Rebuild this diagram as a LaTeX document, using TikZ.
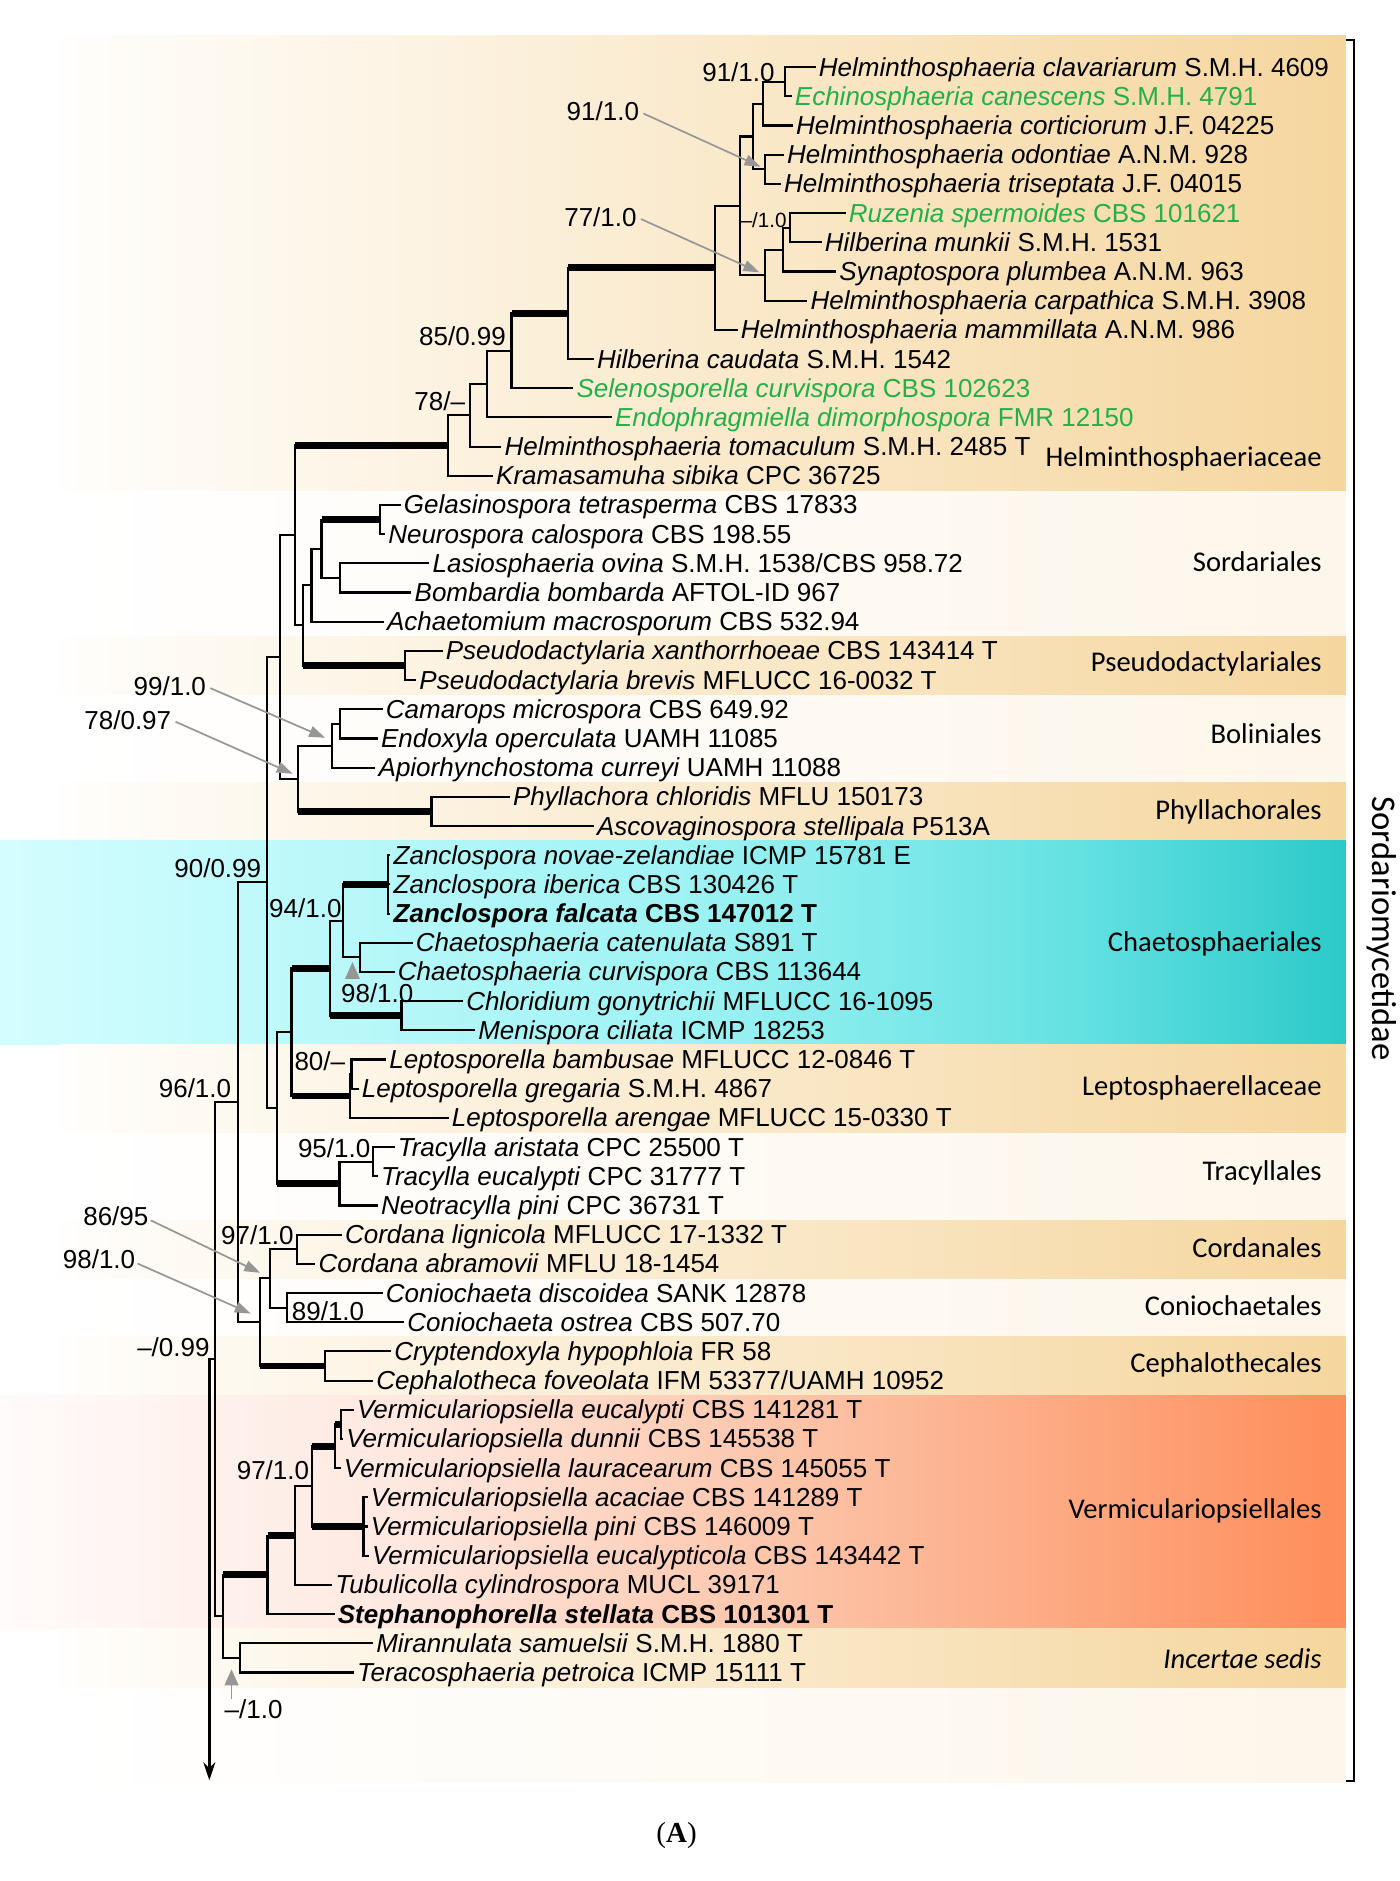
\documentclass[tikz,border=0pt]{standalone}
\usepackage{fontspec}
\setmainfont{Liberation Sans}
\newfontfamily\grpfont{Carlito}
\newfontfamily\capfont{Liberation Serif}
\usetikzlibrary{arrows.meta}
\definecolor{grn}{RGB}{36,176,72}
\definecolor{agray}{RGB}{150,150,150}
\definecolor{tanL}{RGB}{255,254,252}
\definecolor{tanR}{RGB}{245,214,158}
\definecolor{crR}{RGB}{253,246,234}
\definecolor{cy0}{RGB}{212,253,255}
\definecolor{cy1}{RGB}{160,243,244}
\definecolor{cy2}{RGB}{100,225,226}
\definecolor{cy3}{RGB}{44,201,201}
\definecolor{vm0}{RGB}{255,251,250}
\definecolor{vm1}{RGB}{254,232,224}
\definecolor{vm2}{RGB}{252,194,166}
\definecolor{vm3}{RGB}{254,141,90}
\pgfdeclarehorizontalshading{tansh}{100bp}{color(0bp)=(tanL); color(25bp)=(tanL); color(75bp)=(tanR); color(100bp)=(tanR)}
\pgfdeclarehorizontalshading{panelsh}{100bp}{color(0bp)=(white); color(25bp)=(white); color(75bp)=(crR); color(100bp)=(crR)}
\pgfdeclarehorizontalshading{cysh}{100bp}{color(0bp)=(cy0); color(25bp)=(cy0); color(50bp)=(cy1); color(65bp)=(cy2); color(75bp)=(cy3); color(100bp)=(cy3)}
\pgfdeclarehorizontalshading{vmsh}{100bp}{color(0bp)=(vm0); color(25bp)=(vm0); color(40bp)=(vm1); color(55bp)=(vm2); color(75bp)=(vm3); color(100bp)=(vm3)}
\tikzset{
  br/.style={line width=1.05pt, line cap=rect},
  thk/.style={line width=3.4pt},
  leaf/.style={anchor=base west, inner sep=0pt, xshift=2pt, yshift=-4.5pt, font=\fontsize{13pt}{15pt}\selectfont},
  slab/.style={anchor=base east, inner sep=0pt, font=\fontsize{13pt}{15pt}\selectfont},
  grp/.style={anchor=base east, inner sep=0pt, font=\grpfont\fontsize{14.3pt}{16pt}\selectfont},
  garrow/.style={color=agray, line width=0.85pt, -{Triangle[length=8pt,width=5.5pt]}},
}
\newcommand{\mklf}[4]{\coordinate (#1) at (#2,{56+(#3-1)*24.33}); \node[leaf] (#1t) at (#1) {#4};}
\newcommand{\mkn}[3]{\draw[br] (#1 |- #2) -- (#1 |- #3); \draw[br] (#1 |- #2) -- (#2); \draw[br] (#1 |- #3) -- (#3);}
\newcommand{\mkt}[2]{\draw[thk] (#1 |- #2) -- (#2);}
\newcommand{\mkh}[2]{\draw[br] (#1 |- #2) -- (#2);}
\begin{document}
\begin{tikzpicture}[x=0.6pt, y=-0.6pt]
\useasboundingbox (0,0) rectangle (1167,1568);
\fill[white] (0,0) rectangle (1167,1568);
% backgrounds
\shade[shading=panelsh] (50,30) rectangle (1122,1486);
\shade[shading=tansh] (50,30) rectangle (1122,408.8);
\shade[shading=tansh] (50,530.4) rectangle (1122,579.1);
\shade[shading=tansh] (50,652.1) rectangle (1122,700.8);
\shade[shading=cysh] (0,700.8) rectangle (1122,871.1);
\shade[shading=tansh] (50,871.1) rectangle (1122,944.1);
\shade[shading=tansh] (50,1017.1) rectangle (1122,1065.7);
\shade[shading=tansh] (50,1114.4) rectangle (1122,1163.0);
\shade[shading=vmsh] (0,1163.0) rectangle (1122,1357.7);
\shade[shading=tansh] (50,1357.7) rectangle (1122,1406.3);
% bracket
\coordinate (brT) at (1122,33); \coordinate (brB) at (1122,1485);
\draw[line width=1pt] (brT) -- ++(7,0) |- (brB);
\node[rotate=-90, font=\grpfont\fontsize{17.3pt}{20pt}\selectfont] (subcl) at (1152,774) {Sordariomycetidae};
% leaves
\mklf{L1}{679}{1}{\textit{Helminthosphaeria clavariarum} S.M.H. 4609}
\mklf{L2}{659}{2}{\color{grn}\textit{Echinosphaeria canescens} S.M.H. 4791}
\mklf{L3}{660}{3}{\textit{Helminthosphaeria corticiorum} J.F. 04225}
\mklf{L4}{652.5}{4}{\textit{Helminthosphaeria odontiae} A.N.M. 928}
\mklf{L5}{650}{5}{\textit{Helminthosphaeria triseptata} J.F. 04015}
\mklf{L6}{704}{6}{\color{grn}\textit{Ruzenia spermoides} CBS 101621}
\mklf{L7}{684}{7}{\textit{Hilberina munkii} S.M.H. 1531}
\mklf{L8}{696}{8}{\textit{Synaptospora plumbea} A.N.M. 963}
\mklf{L9}{672}{9}{\textit{Helminthosphaeria carpathica} S.M.H. 3908}
\mklf{L10}{614}{10}{\textit{Helminthosphaeria mammillata} A.N.M. 986}
\mklf{L11}{494}{11}{\textit{Hilberina caudata} S.M.H. 1542}
\mklf{L12}{477}{12}{\color{grn}\textit{Selenosporella curvispora} CBS 102623}
\mklf{L13}{509}{13}{\color{grn}\textit{Endophragmiella dimorphospora} FMR 12150}
\mklf{L14}{417}{14}{\textit{Helminthosphaeria tomaculum} S.M.H. 2485 T}
\mklf{L15}{410}{15}{\textit{Kramasamuha sibika} CPC 36725}
\mklf{L16}{333}{16}{\textit{Gelasinospora tetrasperma} CBS 17833}
\mklf{L17}{320}{17}{\textit{Neurospora calospora} CBS 198.55}
\mklf{L18}{357}{18}{\textit{Lasiosphaeria ovina} S.M.H. 1538/CBS 958.72}
\mklf{L19}{342}{19}{\textit{Bombardia bombarda} AFTOL-ID 967}
\mklf{L20}{319}{20}{\textit{Achaetomium macrosporum} CBS 532.94}
\mklf{L21}{368}{21}{\textit{Pseudodactylaria xanthorrhoeae} CBS 143414 T}
\mklf{L22}{346}{22}{\textit{Pseudodactylaria brevis} MFLUCC 16-0032 T}
\mklf{L23}{318}{23}{\textit{Camarops microspora} CBS 649.92}
\mklf{L24}{314}{24}{\textit{Endoxyla operculata} UAMH 11085}
\mklf{L25}{312}{25}{\textit{Apiorhynchostoma curreyi} UAMH 11088}
\mklf{L26}{424}{26}{\textit{Phyllachora chloridis} MFLU 150173}
\mklf{L27}{494}{27}{\textit{Ascovaginospora stellipala} P513A}
\mklf{L28}{324.5}{28}{\textit{Zanclospora novae-zelandiae} ICMP 15781 E}
\mklf{L29}{324.5}{29}{\textit{Zanclospora iberica} CBS 130426 T}
\mklf{L30}{324.5}{30}{\textbf{\textit{Zanclospora falcata} CBS 147012 T}}
\mklf{L31}{343}{31}{\textit{Chaetosphaeria catenulata} S891 T}
\mklf{L32}{328}{32}{\textit{Chaetosphaeria curvispora} CBS 113644}
\mklf{L33}{385}{33}{\textit{Chloridium gonytrichii} MFLUCC 16-1095}
\mklf{L34}{395}{34}{\textit{Menispora ciliata} ICMP 18253}
\mklf{L35}{321}{35}{\textit{Leptosporella bambusae} MFLUCC 12-0846 T}
\mklf{L36}{298}{36}{\textit{Leptosporella gregaria} S.M.H. 4867}
\mklf{L37}{373}{37}{\textit{Leptosporella arengae} MFLUCC 15-0330 T}
\mklf{L38}{328}{38}{\textit{Tracylla aristata} CPC 25500 T}
\mklf{L39}{314}{39}{\textit{Tracylla eucalypti} CPC 31777 T}
\mklf{L40}{314}{40}{\textit{Neotracylla pini} CPC 36731 T}
\mklf{L41}{284}{41}{\textit{Cordana lignicola} MFLUCC 17-1332 T}
\mklf{L42}{262}{42}{\textit{Cordana abramovii} MFLU 18-1454}
\mklf{L43}{318}{43}{\textit{Coniochaeta discoidea} SANK 12878}
\mklf{L44}{336}{44}{\textit{Coniochaeta ostrea} CBS 507.70}
\mklf{L45}{325}{45}{\textit{Cryptendoxyla hypophloia} FR 58}
\mklf{L46}{310}{46}{\textit{Cephalotheca foveolata} IFM 53377/UAMH 10952}
\mklf{L47}{294}{47}{\textit{Vermiculariopsiella eucalypti} CBS 141281 T}
\mklf{L48}{285}{48}{\textit{Vermiculariopsiella dunnii} CBS 145538 T}
\mklf{L49}{283}{49}{\textit{Vermiculariopsiella lauracearum} CBS 145055 T}
\mklf{L50}{305.5}{50}{\textit{Vermiculariopsiella acaciae} CBS 141289 T}
\mklf{L51}{305.5}{51}{\textit{Vermiculariopsiella pini} CBS 146009 T}
\mklf{L52}{306.5}{52}{\textit{Vermiculariopsiella eucalypticola} CBS 143442 T}
\mklf{L53}{276}{53}{\textit{Tubulicolla cylindrospora} MUCL 39171}
\mklf{L54}{278}{54}{\textbf{\textit{Stephanophorella stellata} CBS 101301 T}}
\mklf{L55}{310}{55}{\textit{Mirannulata samuelsii} S.M.H. 1880 T}
\mklf{L56}{294}{56}{\textit{Teracosphaeria petroica} ICMP 15111 T}
% internal nodes
\coordinate (a1) at (654.2,68.15);
\coordinate (a2) at (636.1,86.4);
\coordinate (a3) at (637.5,141.15);
\coordinate (a4) at (627.8,113.8);
\coordinate (a5) at (658.3,189.85);
\coordinate (a6) at (652.8,208.1);
\coordinate (a7) at (637.5,229.35);
\coordinate (a8) at (616.7,171.6);
\coordinate (a9) at (595.8,223.3);
\coordinate (a10) at (473.6,261.3);
\coordinate (a11) at (426.4,292.45);
\coordinate (a12) at (405.6,320.2);
\coordinate (a13) at (391.7,346.25);
\coordinate (a14) at (373.5,371.4);
\coordinate (s1) at (316.7,433.15);
\coordinate (s2) at (283.3,481.75);
\coordinate (s3) at (268,457.45);
\coordinate (s4) at (259.7,487.9);
\coordinate (s5) at (337.5,554.75);
\coordinate (s6) at (252.8,521.3);
\coordinate (s7) at (245.8,446.35);
\coordinate (b1) at (283.3,603.45);
\coordinate (b2) at (276.4,621.7);
\coordinate (b3) at (359.7,676.45);
\coordinate (b4) at (248.6,649.1);
\coordinate (s8) at (233.3,547.7);
\coordinate (c1) at (323.6,737.25);
\coordinate (c2) at (300,798.05);
\coordinate (c3) at (286.1,767.65);
\coordinate (c4) at (334.7,846.75);
\coordinate (c5) at (275,807.2);
\coordinate (l1) at (293,895.4);
\coordinate (l2) at (291.5,913.65);
\coordinate (d1) at (243,860.4);
\coordinate (t1) at (311,968.35);
\coordinate (t2) at (283,986.6);
\coordinate (d2) at (230.6,923.5);
\coordinate (nA) at (222.2,735.6);
\coordinate (k1) at (247.2,1041.35);
\coordinate (k2) at (238.9,1090.05);
\coordinate (k3) at (225,1065.7);
\coordinate (k4) at (270.8,1138.7);
\coordinate (nB) at (216.7,1102.2);
\coordinate (n90) at (198.6,918.9);
\coordinate (v1) at (284,1187.35);
\coordinate (v2) at (279,1205.6);
\coordinate (v3) at (303,1272.5);
\coordinate (v4) at (260,1239.05);
\coordinate (v5) at (246,1280.1);
\coordinate (v6) at (223,1312.8);
\coordinate (i1) at (200,1382);
\coordinate (g) at (186,1347.4);
\coordinate (n96) at (179,1133.15);
\coordinate (root) at (174.5,1133.15);
\coordinate (rootend) at (174.5,1484);
% branches
\mkn{a1}{L1}{L2} \mkn{a2}{a1}{L3} \mkn{a3}{L4}{L5} \mkn{a4}{a2}{a3}
\mkn{a5}{L6}{L7} \mkn{a6}{a5}{L8} \mkn{a7}{a6}{L9} \mkn{a8}{a4}{a7}
\mkn{a9}{a8}{L10} \mkn{a10}{a9}{L11} \mkn{a11}{a10}{L12} \mkn{a12}{a11}{L13}
\mkn{a13}{a12}{L14} \mkn{a14}{a13}{L15}
\mkn{s1}{L16}{L17} \mkn{s2}{L18}{L19} \mkn{s3}{s1}{s2} \mkn{s4}{s3}{L20}
\mkn{s5}{L21}{L22} \mkn{s6}{s4}{s5} \mkn{s7}{a14}{s6}
\mkn{b1}{L23}{L24} \mkn{b2}{b1}{L25} \mkn{b3}{L26}{L27} \mkn{b4}{b2}{b3}
\mkn{s8}{s7}{b4}
\mkn{c1}{L28}{L30} \mkh{c1}{L29} \mkn{c2}{L31}{L32} \mkn{c3}{c1}{c2}
\mkn{c4}{L33}{L34} \mkn{c5}{c3}{c4}
\mkn{l1}{L35}{L36} \mkn{l2}{l1}{L37} \mkn{d1}{c5}{l2}
\mkn{t1}{L38}{L39} \mkn{t2}{t1}{L40} \mkn{d2}{d1}{t2}
\mkn{nA}{s8}{d2}
\mkn{k1}{L41}{L42} \mkn{k2}{L43}{L44} \mkn{k3}{k1}{k2} \mkn{k4}{L45}{L46}
\mkn{nB}{k3}{k4} \mkn{n90}{nA}{nB}
\mkn{v1}{L47}{L48} \mkn{v2}{v1}{L49} \mkn{v3}{L50}{L52} \mkh{v3}{L51}
\mkn{v4}{v2}{v3} \mkn{v5}{v4}{L53} \mkn{v6}{v5}{L54}
\mkn{i1}{L55}{L56} \mkn{g}{v6}{i1} \mkn{n96}{n90}{g}
\draw[br] (root) -- (n96);
\draw[line width=1.2pt, -{Stealth[length=9pt,width=6pt]}] (root) -- (rootend);
% thick branches
\mkt{a10}{a9} \mkt{a11}{a10} \mkt{s7}{a14} \mkt{s3}{s1} \mkt{s6}{s5}
\mkt{b4}{b3} \mkt{c3}{c1} \mkt{c5}{c4} \mkt{d1}{c5} \mkt{d1}{l2} \mkt{d2}{t2}
\mkt{nB}{k4} \mkt{v2}{v1} \mkt{v4}{v2} \mkt{v4}{v3} \mkt{v6}{v5} \mkt{g}{v6}
% support labels
\node[slab] (s91a) at (646,67.7) {91/1.0};
\node[slab] (s91b) at (533,100.7) {91/1.0};
\node[slab] (s77) at (531,188.7) {77/1.0};
\node[slab, font=\fontsize{10.3pt}{12pt}\selectfont] (sm10) at (656,189.4) {–/1.0};
\node[slab] (s85) at (422,288) {85/0.99};
\node[slab] (s78) at (388,342.5) {78/–};
\node[slab] (s99) at (172,579.7) {99/1.0};
\node[slab] (s7897) at (143,607.7) {78/0.97};
\node[slab] (s90) at (218,731.7) {90/0.99};
\node[slab] (s94) at (285,765) {94/1.0};
\node[slab, anchor=base west] (s98) at (284,835.7) {98/1.0};
\node[slab] (s80) at (288,892.5) {80/–};
\node[slab] (s95) at (309,965) {95/1.0};
\node[slab] (s96) at (193,915) {96/1.0};
\node[slab] (s86) at (124,1021.7) {86/95};
\node[slab] (s97a) at (245,1037) {97/1.0};
\node[slab] (s981) at (113,1057.7) {98/1.0};
\node[slab, anchor=base west] (s89) at (243,1100.5) {89/1.0};
\node[slab] (sm099) at (175,1131) {–/0.99};
\node[slab] (s97b) at (258,1233) {97/1.0};
\node[slab, anchor=base west] (sm1b) at (187,1432.7) {–/1.0};
% gray arrows
\coordinate (ar1) at (634,139);
\coordinate (ar2) at (633,227);
\coordinate (ar3) at (271,615);
\coordinate (ar4) at (244,645);
\coordinate (ar5) at (217,1061);
\coordinate (ar6) at (209,1095);
\draw[garrow] ([xshift=2pt,yshift=-1pt]s91b.east) -- (ar1);
\draw[garrow] ([xshift=2pt,yshift=-1pt]s77.east) -- (ar2);
\draw[garrow] ([xshift=2pt,yshift=-1pt]s99.east) -- (ar3);
\draw[garrow] ([xshift=2pt,yshift=-1pt]s7897.east) -- (ar4);
\draw[garrow] ([xshift=1pt,yshift=-2pt]s86.east) -- (ar5);
\draw[garrow] ([xshift=1pt,yshift=-2pt]s981.east) -- (ar6);
\coordinate (tri1) at (293.8,802);
\fill[agray] (tri1) -- ++(6.2,14) -- ++(-12.4,0) -- cycle;
\coordinate (tri2) at (193,1391.5);
\fill[agray] (tri2) -- ++(6,13.5) -- ++(-12,0) -- cycle;
\draw[agray, line width=0.85pt] (193,1404) -- (193,1416);
% group labels
\node[grp] (gHel) at (1102,389) {Helminthosphaeriaceae};
\node[grp] (gSor) at (1102,476) {Sordariales};
\node[grp] (gPse) at (1102,560) {Pseudodactylariales};
\node[grp] (gBol) at (1102,620) {Boliniales};
\node[grp] (gPhy) at (1102,683) {Phyllachorales};
\node[grp] (gCha) at (1102,793) {Chaetosphaeriales};
\node[grp] (gLep) at (1102,913) {Leptosphaerellaceae};
\node[grp] (gTra) at (1102,984) {Tracyllales};
\node[grp] (gCor) at (1102,1048) {Cordanales};
\node[grp] (gCon) at (1102,1097) {Coniochaetales};
\node[grp] (gCep) at (1102,1144) {Cephalothecales};
\node[grp] (gVer) at (1102,1266) {Vermiculariopsiellales};
\node[grp] (gInc) at (1102,1391) {\itshape Incertae sedis};
% caption
\node[font=\capfont\fontsize{14.5pt}{17pt}\selectfont] (cap) at (564,1530) {(\textbf{A})};
\end{tikzpicture}
\end{document}
